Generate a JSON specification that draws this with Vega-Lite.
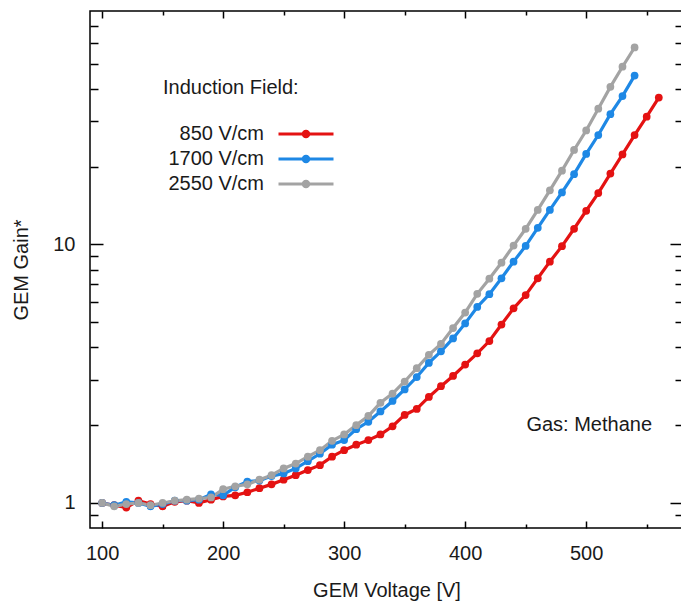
{
  "$schema": "https://vega.github.io/schema/vega-lite/v6.json",
  "width": 593,
  "height": 517,
  "autosize": "none",
  "padding": {"left": 90, "top": 11, "right": 0, "bottom": 74},
  "background": "white",
  "config": {
    "font": "Liberation Sans",
    "view": {"stroke": "black", "strokeWidth": 1.5},
    "axis": {"labelFont": "Liberation Sans", "titleFont": "Liberation Sans", "labelFontSize": 20, "titleFontSize": 20, "titleFontWeight": "normal", "labelColor": "#1a1a1a", "titleColor": "#1a1a1a", "tickColor": "black", "tickWidth": 1.5, "domain": false, "grid": false, "labelFlush": false, "labelOverlap": false}
  },
  "datasets": {
    "gain": [
      {"field": "850 V/cm", "voltage": 100, "gain": 1.00},
      {"field": "850 V/cm", "voltage": 110, "gain": 0.98},
      {"field": "850 V/cm", "voltage": 120, "gain": 0.96},
      {"field": "850 V/cm", "voltage": 130, "gain": 1.02},
      {"field": "850 V/cm", "voltage": 140, "gain": 0.99},
      {"field": "850 V/cm", "voltage": 150, "gain": 0.97},
      {"field": "850 V/cm", "voltage": 160, "gain": 1.01},
      {"field": "850 V/cm", "voltage": 170, "gain": 1.02},
      {"field": "850 V/cm", "voltage": 180, "gain": 1.00},
      {"field": "850 V/cm", "voltage": 190, "gain": 1.03},
      {"field": "850 V/cm", "voltage": 200, "gain": 1.06},
      {"field": "850 V/cm", "voltage": 210, "gain": 1.07},
      {"field": "850 V/cm", "voltage": 220, "gain": 1.10},
      {"field": "850 V/cm", "voltage": 230, "gain": 1.14},
      {"field": "850 V/cm", "voltage": 240, "gain": 1.18},
      {"field": "850 V/cm", "voltage": 250, "gain": 1.23},
      {"field": "850 V/cm", "voltage": 260, "gain": 1.28},
      {"field": "850 V/cm", "voltage": 270, "gain": 1.34},
      {"field": "850 V/cm", "voltage": 280, "gain": 1.40},
      {"field": "850 V/cm", "voltage": 290, "gain": 1.51},
      {"field": "850 V/cm", "voltage": 300, "gain": 1.60},
      {"field": "850 V/cm", "voltage": 310, "gain": 1.68},
      {"field": "850 V/cm", "voltage": 320, "gain": 1.75},
      {"field": "850 V/cm", "voltage": 330, "gain": 1.84},
      {"field": "850 V/cm", "voltage": 340, "gain": 1.98},
      {"field": "850 V/cm", "voltage": 350, "gain": 2.19},
      {"field": "850 V/cm", "voltage": 360, "gain": 2.31},
      {"field": "850 V/cm", "voltage": 370, "gain": 2.57},
      {"field": "850 V/cm", "voltage": 380, "gain": 2.83},
      {"field": "850 V/cm", "voltage": 390, "gain": 3.10},
      {"field": "850 V/cm", "voltage": 400, "gain": 3.43},
      {"field": "850 V/cm", "voltage": 410, "gain": 3.79},
      {"field": "850 V/cm", "voltage": 420, "gain": 4.23},
      {"field": "850 V/cm", "voltage": 430, "gain": 4.90},
      {"field": "850 V/cm", "voltage": 440, "gain": 5.66},
      {"field": "850 V/cm", "voltage": 450, "gain": 6.37},
      {"field": "850 V/cm", "voltage": 460, "gain": 7.40},
      {"field": "850 V/cm", "voltage": 470, "gain": 8.58},
      {"field": "850 V/cm", "voltage": 480, "gain": 9.85},
      {"field": "850 V/cm", "voltage": 490, "gain": 11.5},
      {"field": "850 V/cm", "voltage": 500, "gain": 13.5},
      {"field": "850 V/cm", "voltage": 510, "gain": 15.8},
      {"field": "850 V/cm", "voltage": 520, "gain": 18.8},
      {"field": "850 V/cm", "voltage": 530, "gain": 22.3},
      {"field": "850 V/cm", "voltage": 540, "gain": 26.5},
      {"field": "850 V/cm", "voltage": 550, "gain": 31.2},
      {"field": "850 V/cm", "voltage": 560, "gain": 37.0},
      {"field": "1700 V/cm", "voltage": 100, "gain": 1.00},
      {"field": "1700 V/cm", "voltage": 110, "gain": 0.98},
      {"field": "1700 V/cm", "voltage": 120, "gain": 1.01},
      {"field": "1700 V/cm", "voltage": 130, "gain": 1.00},
      {"field": "1700 V/cm", "voltage": 140, "gain": 0.97},
      {"field": "1700 V/cm", "voltage": 150, "gain": 0.99},
      {"field": "1700 V/cm", "voltage": 160, "gain": 1.02},
      {"field": "1700 V/cm", "voltage": 170, "gain": 1.02},
      {"field": "1700 V/cm", "voltage": 180, "gain": 1.03},
      {"field": "1700 V/cm", "voltage": 190, "gain": 1.08},
      {"field": "1700 V/cm", "voltage": 200, "gain": 1.07},
      {"field": "1700 V/cm", "voltage": 210, "gain": 1.15},
      {"field": "1700 V/cm", "voltage": 220, "gain": 1.21},
      {"field": "1700 V/cm", "voltage": 230, "gain": 1.22},
      {"field": "1700 V/cm", "voltage": 240, "gain": 1.27},
      {"field": "1700 V/cm", "voltage": 250, "gain": 1.30},
      {"field": "1700 V/cm", "voltage": 260, "gain": 1.36},
      {"field": "1700 V/cm", "voltage": 270, "gain": 1.45},
      {"field": "1700 V/cm", "voltage": 280, "gain": 1.55},
      {"field": "1700 V/cm", "voltage": 290, "gain": 1.68},
      {"field": "1700 V/cm", "voltage": 300, "gain": 1.75},
      {"field": "1700 V/cm", "voltage": 310, "gain": 1.93},
      {"field": "1700 V/cm", "voltage": 320, "gain": 2.06},
      {"field": "1700 V/cm", "voltage": 330, "gain": 2.26},
      {"field": "1700 V/cm", "voltage": 340, "gain": 2.48},
      {"field": "1700 V/cm", "voltage": 350, "gain": 2.75},
      {"field": "1700 V/cm", "voltage": 360, "gain": 3.07},
      {"field": "1700 V/cm", "voltage": 370, "gain": 3.48},
      {"field": "1700 V/cm", "voltage": 380, "gain": 3.86},
      {"field": "1700 V/cm", "voltage": 390, "gain": 4.33},
      {"field": "1700 V/cm", "voltage": 400, "gain": 4.95},
      {"field": "1700 V/cm", "voltage": 410, "gain": 5.73},
      {"field": "1700 V/cm", "voltage": 420, "gain": 6.42},
      {"field": "1700 V/cm", "voltage": 430, "gain": 7.40},
      {"field": "1700 V/cm", "voltage": 440, "gain": 8.58},
      {"field": "1700 V/cm", "voltage": 450, "gain": 9.87},
      {"field": "1700 V/cm", "voltage": 460, "gain": 11.6},
      {"field": "1700 V/cm", "voltage": 470, "gain": 13.6},
      {"field": "1700 V/cm", "voltage": 480, "gain": 15.9},
      {"field": "1700 V/cm", "voltage": 490, "gain": 18.7},
      {"field": "1700 V/cm", "voltage": 500, "gain": 22.4},
      {"field": "1700 V/cm", "voltage": 510, "gain": 26.5},
      {"field": "1700 V/cm", "voltage": 520, "gain": 31.9},
      {"field": "1700 V/cm", "voltage": 530, "gain": 37.5},
      {"field": "1700 V/cm", "voltage": 540, "gain": 45.0},
      {"field": "2550 V/cm", "voltage": 100, "gain": 1.00},
      {"field": "2550 V/cm", "voltage": 110, "gain": 0.97},
      {"field": "2550 V/cm", "voltage": 120, "gain": 0.99},
      {"field": "2550 V/cm", "voltage": 130, "gain": 1.00},
      {"field": "2550 V/cm", "voltage": 140, "gain": 0.98},
      {"field": "2550 V/cm", "voltage": 150, "gain": 1.00},
      {"field": "2550 V/cm", "voltage": 160, "gain": 1.02},
      {"field": "2550 V/cm", "voltage": 170, "gain": 1.03},
      {"field": "2550 V/cm", "voltage": 180, "gain": 1.04},
      {"field": "2550 V/cm", "voltage": 190, "gain": 1.05},
      {"field": "2550 V/cm", "voltage": 200, "gain": 1.13},
      {"field": "2550 V/cm", "voltage": 210, "gain": 1.16},
      {"field": "2550 V/cm", "voltage": 220, "gain": 1.18},
      {"field": "2550 V/cm", "voltage": 230, "gain": 1.23},
      {"field": "2550 V/cm", "voltage": 240, "gain": 1.28},
      {"field": "2550 V/cm", "voltage": 250, "gain": 1.36},
      {"field": "2550 V/cm", "voltage": 260, "gain": 1.42},
      {"field": "2550 V/cm", "voltage": 270, "gain": 1.51},
      {"field": "2550 V/cm", "voltage": 280, "gain": 1.60},
      {"field": "2550 V/cm", "voltage": 290, "gain": 1.74},
      {"field": "2550 V/cm", "voltage": 300, "gain": 1.84},
      {"field": "2550 V/cm", "voltage": 310, "gain": 2.00},
      {"field": "2550 V/cm", "voltage": 320, "gain": 2.17},
      {"field": "2550 V/cm", "voltage": 330, "gain": 2.44},
      {"field": "2550 V/cm", "voltage": 340, "gain": 2.65},
      {"field": "2550 V/cm", "voltage": 350, "gain": 2.95},
      {"field": "2550 V/cm", "voltage": 360, "gain": 3.32},
      {"field": "2550 V/cm", "voltage": 370, "gain": 3.74},
      {"field": "2550 V/cm", "voltage": 380, "gain": 4.12},
      {"field": "2550 V/cm", "voltage": 390, "gain": 4.75},
      {"field": "2550 V/cm", "voltage": 400, "gain": 5.45},
      {"field": "2550 V/cm", "voltage": 410, "gain": 6.44},
      {"field": "2550 V/cm", "voltage": 420, "gain": 7.37},
      {"field": "2550 V/cm", "voltage": 430, "gain": 8.50},
      {"field": "2550 V/cm", "voltage": 440, "gain": 9.90},
      {"field": "2550 V/cm", "voltage": 450, "gain": 11.5},
      {"field": "2550 V/cm", "voltage": 460, "gain": 13.6},
      {"field": "2550 V/cm", "voltage": 470, "gain": 16.2},
      {"field": "2550 V/cm", "voltage": 480, "gain": 19.3},
      {"field": "2550 V/cm", "voltage": 490, "gain": 23.2},
      {"field": "2550 V/cm", "voltage": 500, "gain": 27.6},
      {"field": "2550 V/cm", "voltage": 510, "gain": 33.5},
      {"field": "2550 V/cm", "voltage": 520, "gain": 40.7},
      {"field": "2550 V/cm", "voltage": 530, "gain": 48.7},
      {"field": "2550 V/cm", "voltage": 540, "gain": 57.8}
    ]
  },
  "layer": [
    {
      "data": {"name": "gain"},
      "mark": {"type": "line", "strokeWidth": 3.2, "point": {"filled": true, "size": 60}},
      "encoding": {
        "x": {
          "field": "voltage", "type": "quantitative",
          "scale": {"domain": [90, 580], "nice": false, "zero": false},
          "axis": {
            "orient": "bottom",
            "values": [100, 150, 200, 250, 300, 350, 400, 450, 500, 550],
            "labelExpr": "datum.value % 100 == 0 ? datum.label : ''",
            "tickSize": {"condition": {"test": "datum.value % 100 == 0", "value": -7}, "value": -4},
            "labelPadding": 22,
            "title": "GEM Voltage [V]",
            "titlePadding": 14
          }
        },
        "y": {
          "field": "gain", "type": "quantitative",
          "scale": {"type": "log", "domain": [0.8, 80], "nice": false},
          "axis": {
            "orient": "left",
            "values": [0.9, 1, 2, 3, 4, 5, 6, 7, 8, 9, 10, 20, 30, 40, 50, 60, 70],
            "labelExpr": "datum.value == 1 || datum.value == 10 ? datum.label : ''",
            "tickSize": {"condition": {"test": "datum.value == 1 || datum.value == 10", "value": -13}, "value": -8},
            "labelPadding": 28,
            "title": "GEM Gain*",
            "titlePadding": 21
          }
        },
        "color": {
          "field": "field", "type": "nominal",
          "scale": {"domain": ["850 V/cm", "1700 V/cm", "2550 V/cm"], "range": ["#e41212", "#1e88e5", "#a3a3a3"]},
          "legend": {
            "orient": "none", "legendX": 73, "legendY": 67,
            "title": "Induction Field:",
            "titleFont": "Liberation Sans", "titleFontSize": 20, "titleFontWeight": "normal", "titleColor": "#1a1a1a",
            "titlePadding": 26,
            "labelFont": "Liberation Sans", "labelFontSize": 20, "labelColor": "#1a1a1a",
            "labelAlign": "right",
            "symbolType": "M-5.5,-0.3H5.5V0.3H-5.5Z M-0.85,0A0.85,0.85 0 1,1 0.85,0A0.85,0.85 0 1,1 -0.85,0Z",
            "symbolSize": 100,
            "symbolOffset": 133,
            "labelOffset": -52,
            "rowPadding": 5,
            "encode": {"symbols": {"update": {"fill": {"scale": "color", "field": "value"}, "stroke": {"value": "transparent"}, "strokeWidth": {"value": 0}, "opacity": {"value": 1}}}}
          }
        }
      }
    },
    {
      "data": {"values": [{}]},
      "mark": {"type": "text", "fontSize": 20, "font": "Liberation Sans", "color": "#1a1a1a", "align": "center", "baseline": "middle"},
      "encoding": {
        "x": {
          "datum": 502.5, "type": "quantitative",
          "scale": {"domain": [90, 580], "nice": false, "zero": false},
          "axis": {
            "orient": "top",
            "values": [100, 150, 200, 250, 300, 350, 400, 450, 500, 550],
            "labels": false,
            "tickSize": {"condition": {"test": "datum.value % 100 == 0", "value": -7}, "value": -4},
            "title": null
          }
        },
        "y": {
          "datum": 2.0, "type": "quantitative",
          "scale": {"type": "log", "domain": [0.8, 80], "nice": false},
          "axis": {
            "orient": "right",
            "values": [0.9, 1, 2, 3, 4, 5, 6, 7, 8, 9, 10, 20, 30, 40, 50, 60, 70],
            "labels": false,
            "tickSize": {"condition": {"test": "datum.value == 1 || datum.value == 10", "value": -13}, "value": -8},
            "title": null
          }
        },
        "text": {"value": "Gas: Methane"}
      }
    }
  ],
  "resolve": {"axis": {"x": "independent", "y": "independent"}}
}
